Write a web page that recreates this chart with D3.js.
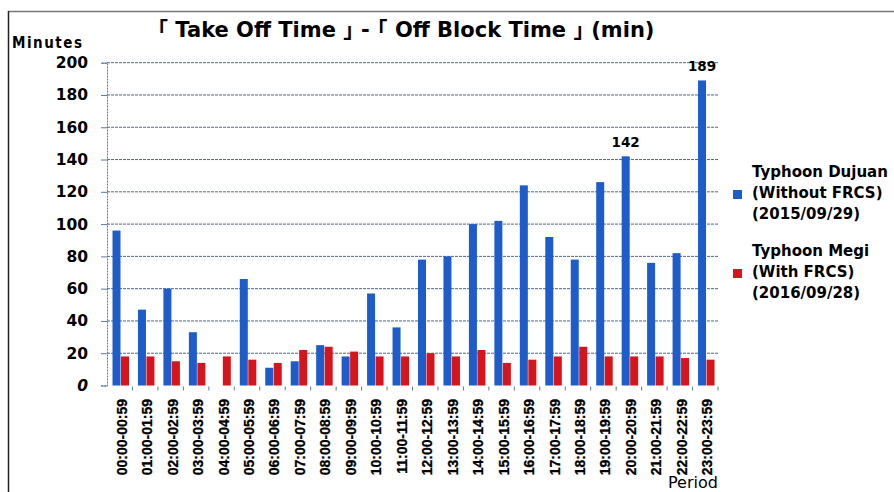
<!DOCTYPE html>
<html><head><meta charset="utf-8">
<script src="https://cdn.jsdelivr.net/npm/d3@7"></script>
<style>html,body{margin:0;padding:0;background:#fff;}svg{display:block;}</style>
</head><body>
<svg id="chart" width="894" height="492"></svg>
<script>
const periods = ["00:00-00:59","01:00-01:59","02:00-02:59","03:00-03:59","04:00-04:59","05:00-05:59",
  "06:00-06:59","07:00-07:59","08:00-08:59","09:00-09:59","10:00-10:59","11:00-11:59",
  "12:00-12:59","13:00-13:59","14:00-14:59","15:00-15:59","16:00-16:59","17:00-17:59",
  "18:00-18:59","19:00-19:59","20:00-20:59","21:00-21:59","22:00-22:59","23:00-23:59"];
const dujuan = [96,47,60,33,0,66,11,15,25,18,57,36,78,80,100,102,124,92,78,126,142,76,82,189];
const megi   = [18,18,15,14,18,16,14,22,24,21,18,18,20,18,22,14,16,18,24,18,18,18,17,16];
const yTicks = [0,20,40,60,80,100,120,140,160,180,200];
const seriesNames = [["Typhoon Dujuan","(Without FRCS)","(2015/09/29)"],["Typhoon Megi","(With FRCS)","(2016/09/28)"]];
const labelled = [20,23];
const colors = ["#1d5cc9","#d6141c"];

const svg = d3.select("#chart");
const mLeft = 107, mRight = 718, mTop = 62.7, mBottom = 385.5;
const x = d3.scaleBand().domain(periods).range([mLeft, mRight]).padding(0);
const y = d3.scaleLinear().domain([0,200]).range([mBottom, mTop]);
const bw = 8;

// frame
svg.append("line").attr("x1",8).attr("x2",894).attr("y1",11.5).attr("y2",11.5).attr("stroke","#777").attr("stroke-width",1.5);
svg.append("line").attr("x1",8.5).attr("x2",8.5).attr("y1",11).attr("y2",492).attr("stroke","#222").attr("stroke-width",1.5);

// gridlines
svg.append("g").selectAll("line").data(yTicks.filter(d=>d>0)).join("line")
  .attr("x1",mLeft).attr("x2",mRight).attr("y1",d=>y(d)).attr("y2",d=>y(d))
  .attr("stroke","#3e5878").attr("stroke-width",1).attr("stroke-dasharray","3,1").attr("opacity",0.9);

// y axis
const ya = svg.append("g").attr("transform",`translate(${mLeft},0)`)
  .call(d3.axisLeft(y).tickValues(yTicks).tickSize(6).tickPadding(13));
ya.select(".domain").attr("stroke","#5a7aa0").attr("stroke-dasharray","2,1");
ya.selectAll(".tick line").attr("stroke","#5a7aa0");
ya.selectAll("text").attr("font-family","DejaVu Sans").attr("font-weight","bold").attr("font-size",15.5).attr("fill","#000")
  .attr("font-style",d=>d===0?"italic":"normal");

// bars
const g = svg.append("g");
g.selectAll(".b1").data(dujuan).join("rect").attr("class","b1")
  .attr("x",(d,i)=>x(periods[i])+5.5).attr("width",bw)
  .attr("y",d=>y(d)).attr("height",d=>y(0)-y(d)).attr("fill",colors[0]);
g.selectAll(".b2").data(megi).join("rect").attr("class","b2")
  .attr("x",(d,i)=>x(periods[i])+5.5+bw+0.5).attr("width",bw)
  .attr("y",d=>y(d)).attr("height",d=>y(0)-y(d)).attr("fill",colors[1]);

// small category ticks
svg.append("g").selectAll("line").data(periods).join("line")
  .attr("x1",d=>x(d)+x.bandwidth()).attr("x2",d=>x(d)+x.bandwidth())
  .attr("y1",mBottom+1).attr("y2",mBottom+5).attr("stroke","#5a7aa0").attr("stroke-width",1);

// value labels
svg.append("g").selectAll("text").data(labelled).join("text")
  .attr("x",i=>x(periods[i])+5.5+bw/2).attr("y",i=>y(dujuan[i])-9)
  .attr("text-anchor","middle").attr("font-family","DejaVu Sans").attr("font-weight","bold")
  .attr("font-size",13.5).attr("fill","#000").text(i=>dujuan[i]);

// x labels
svg.append("g").selectAll("text").data(periods).join("text")
  .attr("transform",d=>`translate(${x(d)+x.bandwidth()/2+2},399) rotate(-90)`)
  .attr("text-anchor","end").attr("dominant-baseline","central")
  .attr("font-family","Liberation Sans").attr("font-weight","bold").attr("font-size",14).attr("fill","#000")
  .attr("stroke","#000").attr("stroke-width",0.3)
  .text(d=>d);

// title
svg.append("text").attr("x",406).attr("y",37).attr("text-anchor","middle")
  .attr("font-family","DejaVu Sans, 'Noto Sans CJK JP'").attr("font-weight","bold").attr("font-size",21).attr("fill","#000")
  .text("｢ Take Off Time ｣ - ｢ Off Block Time ｣ (min)");

svg.append("text").attr("x",12).attr("y",48).attr("font-family","DejaVu Sans Condensed, DejaVu Sans").attr("font-weight","bold")
  .attr("font-size",15).attr("textLength",70).attr("fill","#000").text("Minutes");
svg.append("text").attr("x",668).attr("y",488).attr("font-family","DejaVu Sans").attr("font-weight","normal")
  .attr("font-size",16).attr("fill","#000").text("Period");

// legend
const lg = svg.append("g");
seriesNames.forEach((lines,k)=>{
  const by = 177 + k*79;
  lg.append("rect").attr("x",733).attr("y",by+13).attr("width",9).attr("height",9).attr("fill",colors[k]);
  lines.forEach((t,j)=>{
    lg.append("text").attr("x",752).attr("y",by+j*21).attr("font-family","DejaVu Sans").attr("font-weight","bold")
      .attr("font-size",15).attr("fill","#000").text(t);
  });
});
</script>
</body></html>
